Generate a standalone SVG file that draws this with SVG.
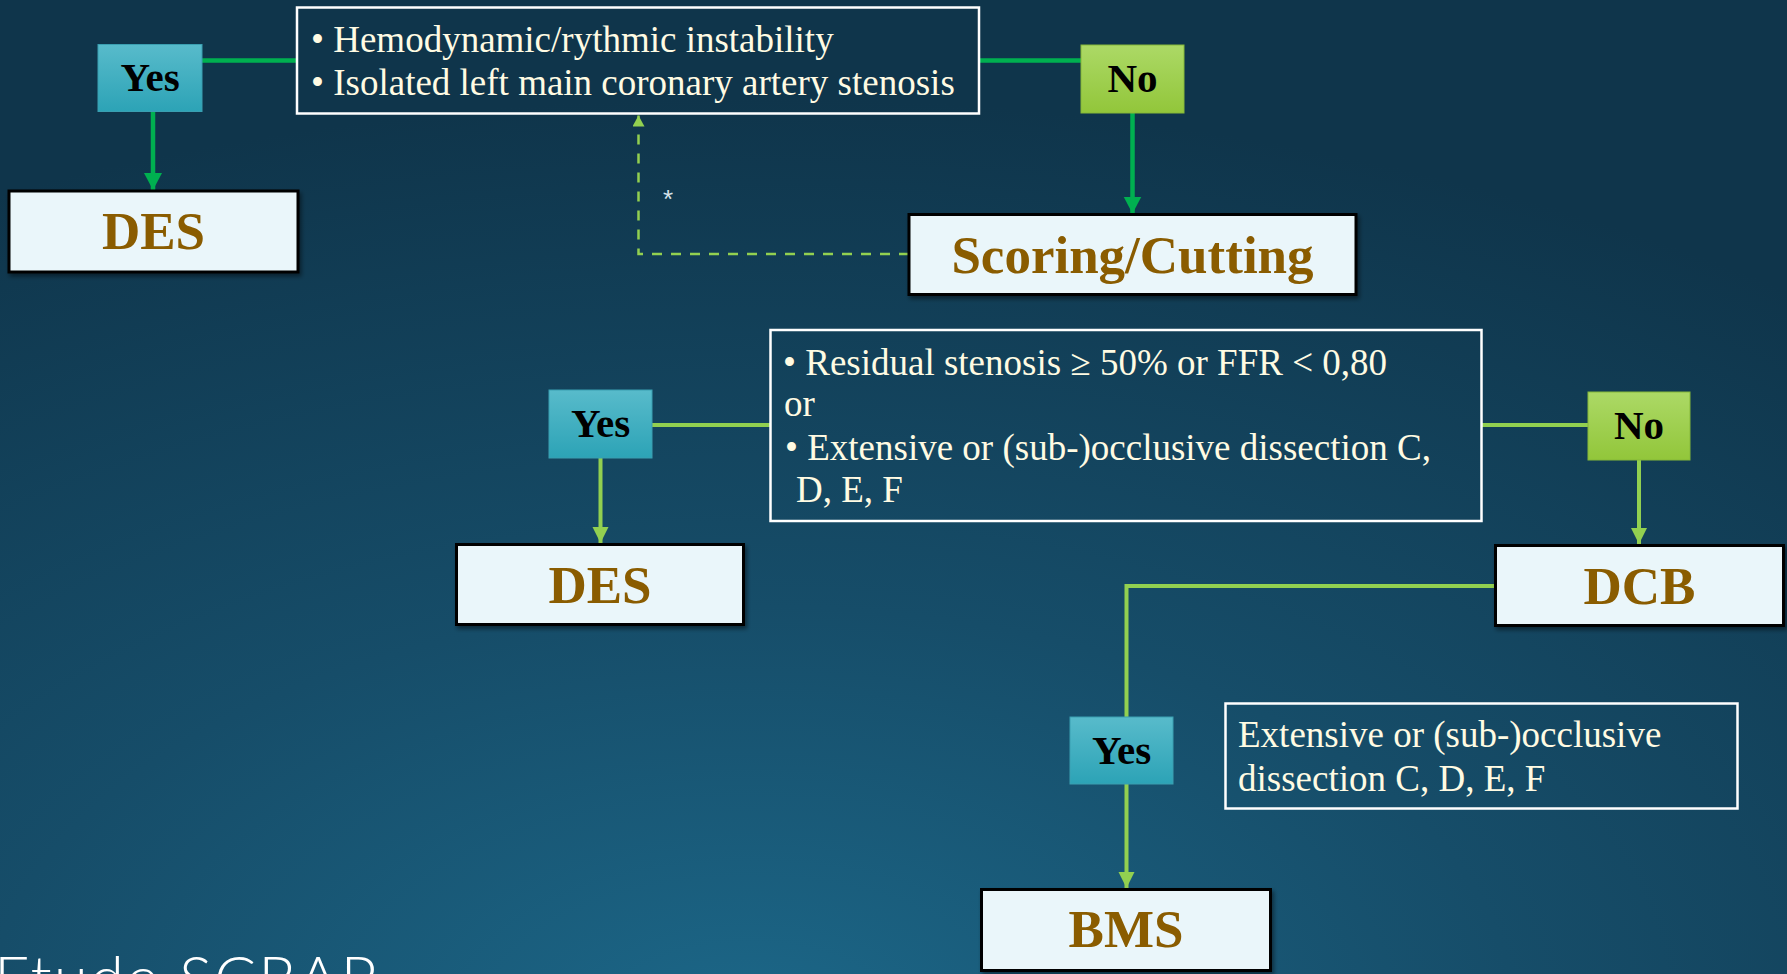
<svg xmlns="http://www.w3.org/2000/svg" width="1787" height="974" viewBox="0 0 1787 974">
  <defs>
    <radialGradient id="bg" cx="0.42" cy="1.05" r="0.95" gradientUnits="objectBoundingBox">
      <stop offset="0" stop-color="#1c6788"/>
      <stop offset="0.45" stop-color="#164d69"/>
      <stop offset="1" stop-color="#0f354b"/>
    </radialGradient>
    <linearGradient id="yesG" x1="0" y1="0" x2="0" y2="1">
      <stop offset="0" stop-color="#58bbcb"/>
      <stop offset="1" stop-color="#2ca3b6"/>
    </linearGradient>
    <linearGradient id="noG" x1="0" y1="0" x2="0" y2="1">
      <stop offset="0" stop-color="#acd966"/>
      <stop offset="1" stop-color="#92c63a"/>
    </linearGradient>
    <filter id="sh" x="-10%" y="-10%" width="130%" height="140%">
      <feDropShadow dx="2" dy="3" stdDeviation="2" flood-color="#000" flood-opacity="0.45"/>
    </filter>
    <marker id="arrG" markerUnits="userSpaceOnUse" markerWidth="20" markerHeight="20" refX="17" refY="9" orient="auto">
      <path d="M0,0 L17,9 L0,18 Z" fill="#00b050"/>
    </marker>
    <marker id="arrL" markerUnits="userSpaceOnUse" markerWidth="18" markerHeight="18" refX="16" refY="8" orient="auto">
      <path d="M0,0 L16,8 L0,16 Z" fill="#92d050"/>
    </marker>
    <marker id="arrD" markerUnits="userSpaceOnUse" markerWidth="14" markerHeight="14" refX="11" refY="6" orient="auto">
      <path d="M0,0 L11,6 L0,12 Z" fill="#92d050"/>
    </marker>
    <style>
      .yes { fill: url(#yesG); stroke: #3a9fb1; stroke-width: 1; }
      .no { fill: url(#noG); stroke: #86b838; stroke-width: 1; }
      .lbl { font-family: "Liberation Serif", "Times New Roman", serif; font-weight: bold; font-size: 41px; fill: #000; text-anchor: middle; }
      .node { fill: #eaf6fa; stroke: #000; stroke-width: 3; filter: url(#sh); }
      .ntx { font-family: "Liberation Serif", "Times New Roman", serif; font-weight: bold; font-size: 53px; fill: #8a5c00; text-anchor: middle; }
      .cond { fill: none; stroke: #ffffff; stroke-width: 2.5; }
      .ctx { font-family: "Liberation Serif", "Times New Roman", serif; font-size: 37px; fill: #fffbe3; }
      .cg { fill: none; stroke: #00b050; stroke-width: 4.5; }
      .cl { fill: none; stroke: #92d050; stroke-width: 4; }
      .cd { fill: none; stroke: #92d050; stroke-width: 2.5; stroke-dasharray: 10 9; }
    </style>
  </defs>

  <rect x="0" y="0" width="1787" height="974" fill="url(#bg)"/>

  <g id="connectors">
    <line class="cg" x1="202" y1="60.5" x2="297" y2="60.5"/>
    <line class="cg" x1="979" y1="60.5" x2="1081" y2="60.5"/>
    <line class="cg" x1="153" y1="112" x2="153" y2="190" marker-end="url(#arrG)"/>
    <line class="cg" x1="1132.5" y1="113" x2="1132.5" y2="213.5" marker-end="url(#arrG)"/>
    <line class="cl" x1="652" y1="425" x2="770" y2="425"/>
    <line class="cl" x1="1482" y1="425" x2="1588" y2="425"/>
    <line class="cl" x1="600.5" y1="458" x2="600.5" y2="543" marker-end="url(#arrL)"/>
    <line class="cl" x1="1639" y1="460" x2="1639" y2="544" marker-end="url(#arrL)"/>
    <polyline class="cl" points="1495,586 1126.5,586 1126.5,717"/>
    <line class="cl" x1="1126.5" y1="784" x2="1126.5" y2="888" marker-end="url(#arrL)"/>
    <polyline class="cd" points="909,254 638.5,254 638.5,115.5" marker-end="url(#arrD)"/>
    <text x="668" y="208" font-family="Liberation Sans, Arial, sans-serif" font-size="26" fill="#d5e2ea" text-anchor="middle">*</text>
  </g>

  <g id="cond1">
    <rect class="cond" x="297" y="7.5" width="682" height="106"/>
    <text class="ctx" x="311" y="51.5">• Hemodynamic/rythmic instability</text>
    <text class="ctx" x="311" y="94.5">• Isolated left main coronary artery stenosis</text>
  </g>

  <g id="yes1">
    <rect class="yes" x="98" y="44.5" width="104" height="67"/>
    <text class="lbl" x="150" y="91">Yes</text>
  </g>

  <g id="no1">
    <rect class="no" x="1081" y="45" width="103" height="68"/>
    <text class="lbl" x="1132.5" y="92">No</text>
  </g>

  <g id="des1">
    <rect class="node" x="9" y="191" width="289" height="81"/>
    <text class="ntx" x="153.5" y="249">DES</text>
  </g>

  <g id="scoring">
    <rect class="node" x="909" y="214.5" width="447" height="80"/>
    <text class="ntx" x="1132.5" y="273">Scoring/Cutting</text>
  </g>

  <g id="cond2">
    <rect class="cond" x="770.5" y="330" width="711" height="191"/>
    <text class="ctx" x="783" y="375">• Residual stenosis ≥ 50% or FFR &lt; 0,80</text>
    <text class="ctx" x="784" y="416">or</text>
    <text class="ctx" x="785" y="460">• Extensive or (sub-)occlusive dissection C,</text>
    <text class="ctx" x="796" y="502">D, E, F</text>
  </g>

  <g id="yes2">
    <rect class="yes" x="549" y="390" width="103" height="68"/>
    <text class="lbl" x="600.5" y="437">Yes</text>
  </g>

  <g id="no2">
    <rect class="no" x="1588" y="392" width="102" height="68"/>
    <text class="lbl" x="1639" y="439">No</text>
  </g>

  <g id="des2">
    <rect class="node" x="456.5" y="544.5" width="287" height="80"/>
    <text class="ntx" x="600" y="603">DES</text>
  </g>

  <g id="dcb">
    <rect class="node" x="1495.5" y="545.5" width="288" height="80"/>
    <text class="ntx" x="1639.5" y="604">DCB</text>
  </g>

  <g id="yes3">
    <rect class="yes" x="1070" y="717" width="103" height="67"/>
    <text class="lbl" x="1121.5" y="764">Yes</text>
  </g>

  <g id="cond3">
    <rect class="cond" x="1225.5" y="703.5" width="512" height="105"/>
    <text class="ctx" x="1238" y="747">Extensive or (sub-)occlusive</text>
    <text class="ctx" x="1238" y="791">dissection C, D, E, F</text>
  </g>

  <g id="bms">
    <rect class="node" x="981.5" y="889.5" width="289" height="81"/>
    <text class="ntx" x="1126" y="947">BMS</text>
  </g>

  <text x="-6" y="1000" font-family="Lato, 'Open Sans', sans-serif" font-weight="300" font-size="62" letter-spacing="2" fill="#ffffff">Etude SCRAP</text>
</svg>
